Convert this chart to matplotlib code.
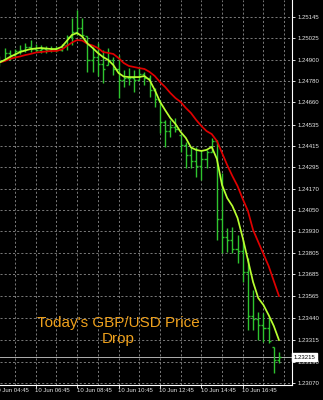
import matplotlib
matplotlib.use('Agg')
import matplotlib.pyplot as plt
import matplotlib.transforms as mtrans
from matplotlib.collections import LineCollection
import numpy as np

# 15 minute GBP/USD bars, 10 Jun 05:00 .. 18:30 (bar index 0..54)
bar_high = [1.24923, 1.24969, 1.24958, 1.24963, 1.24986, 1.24997, 1.25014, 1.24992, 1.24986, 1.24980,
            1.24980, 1.24980, 1.24992, 1.25043, 1.25139, 1.25184, 1.25139, 1.25037, 1.24975, 1.24997,
            1.24958, 1.24969, 1.24918, 1.24929, 1.24844, 1.24855, 1.24844, 1.24861, 1.24833, 1.24816,
            1.24742, 1.24674, 1.24561, 1.24561, 1.24572, 1.24476, 1.24436, 1.24408, 1.24408, 1.24391,
            1.24391, 1.24459, 1.24447, 1.24260, 1.23948, 1.23954, 1.23909, 1.23880, 1.23778, 1.23597,
            1.23472, 1.23466, 1.23444, 1.23273, 1.23245]
bar_low = [1.24867, 1.24901, 1.24901, 1.24912, 1.24935, 1.24946, 1.24946, 1.24946, 1.24941, 1.24941,
           1.24946, 1.24946, 1.24952, 1.24958, 1.24986, 1.25043, 1.25026, 1.24833, 1.24833, 1.24810,
           1.24770, 1.24872, 1.24816, 1.24685, 1.24748, 1.24759, 1.24719, 1.24787, 1.24759, 1.24691,
           1.24634, 1.24487, 1.24408, 1.24464, 1.24493, 1.24379, 1.24288, 1.24288, 1.24237, 1.24220,
           1.24288, 1.24379, 1.23880, 1.23806, 1.23812, 1.23806, 1.23750, 1.23642, 1.23370, 1.23370,
           1.23313, 1.23302, 1.23296, 1.23126, 1.23183]
bar_close = [1.24895, 1.24940, 1.24930, 1.24950, 1.24960, 1.24975, 1.24965, 1.24960, 1.24965, 1.24960,
             1.24965, 1.24960, 1.24985, 1.25030, 1.25060, 1.25080, 1.25040, 1.24900, 1.24920, 1.24880,
             1.24850, 1.24900, 1.24850, 1.24790, 1.24800, 1.24800, 1.24790, 1.24820, 1.24800, 1.24730,
             1.24680, 1.24550, 1.24500, 1.24520, 1.24510, 1.24420, 1.24360, 1.24330, 1.24300, 1.24340,
             1.24380, 1.24440, 1.24000, 1.23900, 1.23880, 1.23830, 1.23820, 1.23700, 1.23450, 1.23430,
             1.23400, 1.23380, 1.23310, 1.23200, 1.23215]
first_open = 1.24900

# moving averages as drawn on the chart
ma_fast = [1.24887, 1.24901, 1.24918, 1.24932, 1.24946, 1.24955, 1.24963, 1.24966, 1.24969, 1.24966,
           1.24963, 1.24963, 1.24975, 1.25009, 1.25043, 1.25054, 1.25034, 1.24994, 1.24969, 1.24941,
           1.24918, 1.24901, 1.24872, 1.24827, 1.24807, 1.24804, 1.24804, 1.24804, 1.24810, 1.24787,
           1.24731, 1.24665, 1.24617, 1.24572, 1.24538, 1.24493, 1.24459, 1.24405, 1.24391, 1.24385,
           1.24391, 1.24408, 1.24340, 1.24192, 1.24118, 1.24073, 1.24005, 1.23892, 1.23767, 1.23642,
           1.23551, 1.23512, 1.23455, 1.23393, 1.23313]
ma_slow = [1.24887, 1.24895, 1.24907, 1.24915, 1.24921, 1.24929, 1.24935, 1.24943, 1.24946, 1.24949,
           1.24952, 1.24952, 1.24960, 1.24980, 1.25000, 1.25014, 1.25011, 1.24992, 1.24983, 1.24969,
           1.24946, 1.24941, 1.24935, 1.24912, 1.24884, 1.24867, 1.24861, 1.24855, 1.24850, 1.24833,
           1.24810, 1.24776, 1.24748, 1.24714, 1.24685, 1.24663, 1.24629, 1.24600, 1.24561, 1.24527,
           1.24498, 1.24481, 1.24442, 1.24374, 1.24305, 1.24243, 1.24186, 1.24113, 1.24045, 1.23937,
           1.23869, 1.23801, 1.23733, 1.23648, 1.23563]

price_ticks = ['1.25145', '1.25025', '1.24900', '1.24780', '1.24660', '1.24535', '1.24415', '1.24295',
               '1.24170', '1.24050', '1.23930', '1.23805', '1.23685', '1.23565', '1.23440', '1.23315',
               '1.23190', '1.23070']
time_labels = ['10 Jun 04:45', '10 Jun 06:45', '10 Jun 08:45', '10 Jun 10:45',
               '10 Jun 12:45', '10 Jun 14:45', '10 Jun 16:45']
time_label_bars = [-1, 7, 15, 23, 31, 39, 47]
last_price = '1.23215'

GRID = '#8c8c8c'
FONT = ['Liberation Sans', 'DejaVu Sans']


def draw_bars(ax):
    n = len(bar_close)
    x = np.arange(n)
    opens = np.array([first_open] + bar_close[:-1])
    opens = np.clip(opens, bar_low, bar_high)
    segs = []
    for i in range(n):
        segs.append([(x[i], bar_low[i]), (x[i], bar_high[i])])
        segs.append([(x[i] - 0.4, opens[i]), (x[i], opens[i])])
        segs.append([(x[i], bar_close[i]), (x[i] + 0.4, bar_close[i])])
    ax.add_collection(LineCollection(segs, colors='#2ec42e', linewidths=1.0, zorder=3))
    ax.plot(x, ma_slow, color='#e00000', lw=1.25, zorder=4)
    ax.plot(x, ma_fast, color='#b8ff30', lw=1.25, zorder=5)


def main():
    plt.rcParams['font.family'] = FONT
    fig = plt.figure(figsize=(3.23, 4.0), dpi=100, facecolor='black')
    ax = fig.add_axes([0, 15 / 400, 292 / 323, 385 / 400], facecolor='black')

    # grid: hourly verticals, horizontals at price labels
    for k in range(3, 57, 4):
        ax.axvline(k, color=GRID, lw=0.6, ls=(0, (2.5, 2.5)), zorder=1)
    for p in price_ticks:
        ax.axhline(float(p), color=GRID, lw=0.6, ls=(0, (2.5, 2.5)), zorder=1)

    draw_bars(ax)

    ax.set_xlim(0.097, 56.52)
    ax.set_ylim(1.23058, 1.25241)

    for side in ['top', 'left']:
        ax.spines[side].set_visible(False)
    for side in ['right', 'bottom']:
        ax.spines[side].set_color('white')
        ax.spines[side].set_linewidth(0.8)

    ax.yaxis.tick_right()
    ax.set_yticks([float(p) for p in price_ticks])
    ax.set_yticklabels(price_ticks)
    ax.tick_params(axis='y', colors='white', labelcolor='#e6e6e6', labelsize=4.3,
                   length=2.5, width=0.6, pad=1.5, direction='out')

    ax.set_xticks([k for k in time_label_bars if k >= 0])
    ax.set_xticklabels([])
    ax.tick_params(axis='x', colors='white', length=2, width=0.6, direction='out')
    # first label runs off the left edge, as in the terminal screenshot
    for k, lab in zip(time_label_bars, time_labels):
        ax.text(k - 0.1, -0.0135, lab, transform=ax.get_xaxis_transform(), ha='left', va='center',
                fontsize=4.3, color='#e6e6e6', clip_on=False)

    # current price line and marker
    ax.axhline(float(last_price), color='#b0b0b0', lw=0.7, zorder=2)
    trans = mtrans.blended_transform_factory(ax.transAxes, ax.transData)
    ax.text(1.006, float(last_price), last_price, transform=trans, ha='left', va='center',
            fontsize=4.3, color='black', clip_on=False, zorder=10,
            bbox=dict(boxstyle='square,pad=0.25', fc='white', ec='white'))

    fig.text(118.5 / 323, 1 - 331 / 400, "Today's GBP/USD Price\nDrop", ha='center', va='center',
             multialignment='center', fontsize=11, color='#eea01c', linespacing=1.15)

    fig.savefig('out.png', dpi=100, facecolor='black')


if __name__ == "__main__":
    main()
